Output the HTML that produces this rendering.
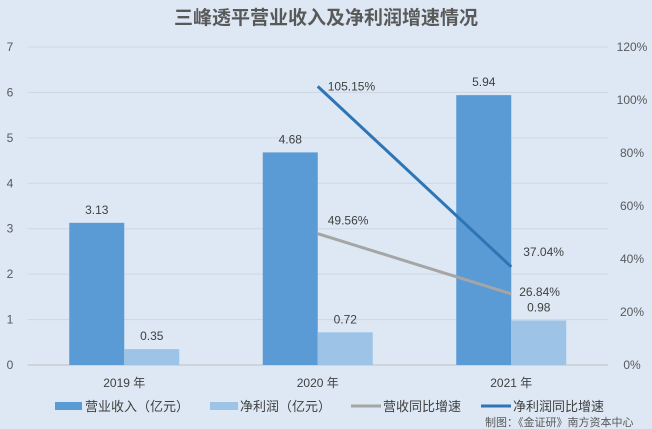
<!DOCTYPE html>
<html><head><meta charset="utf-8"><style>
body{margin:0;background:#dde8f4;}
svg{display:block;font-family:"Liberation Sans","Noto Sans CJK SC",sans-serif;}
</style></head><body>
<svg id="chart" width="652" height="429">
<rect width="652" height="429" fill="#dde8f4"/>
<text x="326" y="24" text-anchor="middle" font-size="19" font-weight="bold" fill="#595959">三峰透平营业收入及净利润增速情况</text>
<g id="grid"></g><g id="bars"></g><g id="lines"></g><g id="labels"></g>
<g font-size="13" fill="#404040">
<rect x="55" y="402" width="27" height="8" fill="#5b9bd5"/>
<text x="85" y="411">营业收入（亿元）</text>
<rect x="210" y="402" width="28" height="8" fill="#9dc3e6"/>
<text x="240" y="411">净利润（亿元）</text>
<line x1="351" y1="406" x2="381" y2="406" stroke="#a5a5a5" stroke-width="3"/>
<text x="383" y="411">营收同比增速</text>
<line x1="481" y1="406" x2="511" y2="406" stroke="#2e75b6" stroke-width="3"/>
<text x="513" y="411">净利润同比增速</text>
</g>
<text x="485" y="426" font-size="11" fill="#595959">制图：《金证研》南方资本中心</text>
</svg>
<script>
const categories=["2019 年","2020 年","2021 年"];
const revenue=[3.13,4.68,5.94];
const profit=[0.35,0.72,0.98];
const revGrowth=[null,49.56,26.84];
const profitGrowth=[null,105.15,37.04];
const leftTicks=[0,1,2,3,4,5,6,7];
const rightTicks=[0,20,40,60,80,100,120];
const NS="http://www.w3.org/2000/svg";
const x0=27.5,step=193.5,yBase=365,yTop=47,bw=55;
const yL=v=>yBase-v/7*(yBase-yTop);
const yR=v=>yBase-v/120*(yBase-yTop);
const cx=i=>x0+step*(i+0.5);
function mk(tag,attrs,parent,txt){const e=document.createElementNS(NS,tag);for(const k in attrs)e.setAttribute(k,attrs[k]);if(txt!==undefined)e.textContent=txt;document.getElementById(parent).appendChild(e);return e;}
leftTicks.forEach(t=>{
 const g=mk("line",{x1:x0,x2:x0+3*step,y1:yL(t),y2:yL(t),stroke:t===0?"#bfbfbf":"#cdd7e3","stroke-width":1},"grid");
 
 
 const l=mk("text",{x:10,y:yL(t)+4,"text-anchor":"middle","font-size":12,fill:"#595959"},"labels",t);
 
 
});
rightTicks.forEach(t=>{
 const l=mk("text",{x:632,y:yR(t)+4,"text-anchor":"middle","font-size":12,fill:"#595959"},"labels",t+"%");
 
 
});
categories.forEach((c,i)=>{
 const l=mk("text",{x:cx(i),y:387,"text-anchor":"middle","font-size":12,fill:"#404040"},"labels",c);
 
 
 const b1=mk("rect",{x:cx(i)-bw,y:yL(revenue[i]),width:bw,height:yBase-yL(revenue[i]),fill:"#5b9bd5"},"bars");
 
 
 const b2=mk("rect",{x:cx(i),y:yL(profit[i]),width:bw,height:yBase-yL(profit[i]),fill:"#9dc3e6"},"bars");
 
 
 const t1=mk("text",{x:cx(i)-bw/2,y:yL(revenue[i])-9,"text-anchor":"middle","font-size":12,fill:"#404040"},"labels",revenue[i].toFixed(2));
 
 
 const t2=mk("text",{x:cx(i)+bw/2,y:yL(profit[i])-9,"text-anchor":"middle","font-size":12,fill:"#404040"},"labels",profit[i].toFixed(2));
 
 
});
function drawLine(arr,color,name,offs){
 const pts=[];arr.forEach((v,i)=>{if(v!==null)pts.push([cx(i),yR(v),v]);});
 const p=mk("polyline",{points:pts.map(p=>p[0]+","+p[1]).join(" "),fill:"none",stroke:color,"stroke-width":3},"lines");
 
 
 pts.forEach((q,j)=>{
  const t=mk("text",{x:q[0]+offs[j][0],y:q[1]+offs[j][1],"font-size":12,fill:"#404040"},"labels",q[2].toFixed(2)+"%");
  
  
 });
}
drawLine(revGrowth,"#a5a5a5","line-revenue-growth",[[10,-9],[8,2]]);
drawLine(profitGrowth,"#2e75b6","line-profit-growth",[[10,4],[12,-11]]);
</script>
</body></html>
